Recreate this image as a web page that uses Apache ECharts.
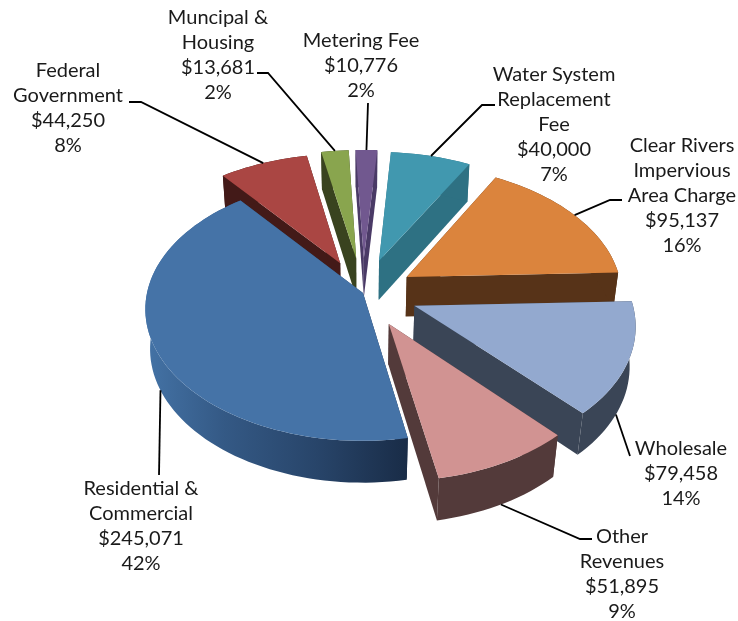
<!DOCTYPE html>
<html><head><meta charset="utf-8">
<script src="https://cdn.jsdelivr.net/npm/echarts@6/dist/echarts.min.js"></script>
<style>html,body{margin:0;background:#fff}#c{width:738px;height:621px}</style></head>
<body><div id="c"></div>
<script>
// DATA: clockwise from the start of the Residential slice
const categories = ['Residential & Commercial','Federal Government','Muncipal & Housing','Metering Fee','Water System Replacement Fee','Clear Rivers Impervious Area Charge','Wholesale','Other Revenues'];
const values = [245071,44250,13681,10776,40000,95137,79458,51895];

// STYLE
const labelLines = [['Residential &','Commercial'],['Federal','Government'],['Muncipal &','Housing'],['Metering Fee'],['Water System','Replacement','Fee'],['Clear Rivers','Impervious','Area Charge'],['Wholesale'],['Other','Revenues']];
const labelCenterX = [141,68,218,361,554,682,681,622];
const labelFirstY = [489,71,18,41,75,146,449,537];
const topColors = ['#4573a7','#aa4643','#89a54e','#71588f','#4198af','#db843d','#93a9cf','#d19392'];
const wallColors = ['#2d4a6e','#431a18','#39431f','#4a3a66','#2e7183','#573318','#3a4556','#533a3a'];
const explode = [0,56,60,60,58,52,55,56];
const drawOrder = [3,2,1,4,5,6,7,0];
const leaderAnchor = [[.5,1],[.5,0],[.5,0],[.5,0],[.5,0],[.5,0],[.62,1],[.5,1]];
const leaderEnd = [[[159,475]],[[141,102],[129,102]],[[268,73],[257,73]],[[368,103]],[[482,105],[495,105]],[[610,200],[622,200]],[[630,456]],[[580,539],[592,539]]];

const startAngle = 169.5, R = 216, H = 51, sinE = .6, cosE = .8, F = 1400, CX = 363, CY = 293;
const total = values.reduce((a,b)=>a+b,0);
const rad = d => d*Math.PI/180;
function project(X,Y,Z){
  const v = Y*sinE - Z*cosE, d = Y*cosE + Z*sinE, p = F/(F-d);
  return [CX + X*p, CY + v*p];
}
let acc = startAngle;
const spans = values.map(v=>{const a0=acc; acc+=v/total*360; return [a0,acc];});
function pt(i,ang,r,z){
  const mid = rad((spans[i][0]+spans[i][1])/2), e = explode[i];
  const a = rad(ang);
  return project(e*Math.sin(mid)+r*Math.sin(a), -e*Math.cos(mid)-r*Math.cos(a), z);
}
function arc(i,z){
  const [a0,a1] = spans[i], out=[], n=Math.max(4,Math.ceil((a1-a0)/2));
  for(let k=0;k<=n;k++) out.push(pt(i,a0+(a1-a0)*k/n,R,z));
  return out;
}
const Grad = echarts.graphic.LinearGradient;
function renderItem(params, api){
  const i = api.value(0), [a0,a1] = spans[i];
  const top = arc(i,0), bot = arc(i,-H), wall = wallColors[i];
  const poly = (points,fill)=>({type:'polygon',shape:{points},style:{fill}});
  const wallFill = i===0 ? new Grad(0,0,1,0,[{offset:0,color:'#4473a6'},{offset:.3,color:'#345985'},{offset:.65,color:'#28456a'},{offset:1,color:'#192c47'}]) : wall;
  return {type:'group',children:[
    poly([pt(i,a0,0,0),pt(i,a0,R,0),pt(i,a0,R,-H),pt(i,a0,0,-H)],i===0?'#192c47':wall),
    poly([pt(i,a1,0,0),pt(i,a1,R,0),pt(i,a1,R,-H),pt(i,a1,0,-H)],wall),
    poly(top.concat(bot.slice().reverse()),wallFill),
    poly([pt(i,a0,0,0)].concat(top),topColors[i])
  ]};
}
function renderLabel(params, api){
  const i = api.value(0);
  const pct = Math.round(values[i]/total*100)+'%';
  const money = '$'+values[i].toLocaleString('en-US');
  const lines = labelLines[i].concat([money,pct]);
  const [f,zf] = leaderAnchor[i];
  const start = pt(i,spans[i][0]+(spans[i][1]-spans[i][0])*f,R,-H*zf);
  const children = [{type:'polyline',shape:{points:[start].concat(leaderEnd[i])},style:{stroke:'#000',lineWidth:1.8,fill:null}}];
  lines.forEach((t,k)=>children.push({type:'text',style:{text:t,x:labelCenterX[i],y:labelFirstY[i]+k*24.8,align:'center',verticalAlign:'middle',font:'20px Lato',fill:'#1a1a1a'}}));
  return {type:'group',children};
}
const chart = echarts.init(document.getElementById('c'));
chart.setOption({
  animation:false,
  series:[
    {type:'custom',coordinateSystem:'none',renderItem,data:drawOrder.map(i=>[i,values[i],categories[i]]),silent:true,z:2},
    {type:'custom',coordinateSystem:'none',renderItem:renderLabel,data:values.map((v,i)=>[i,v,categories[i]]),silent:true,z:3}
  ]
});
</script></body></html>
